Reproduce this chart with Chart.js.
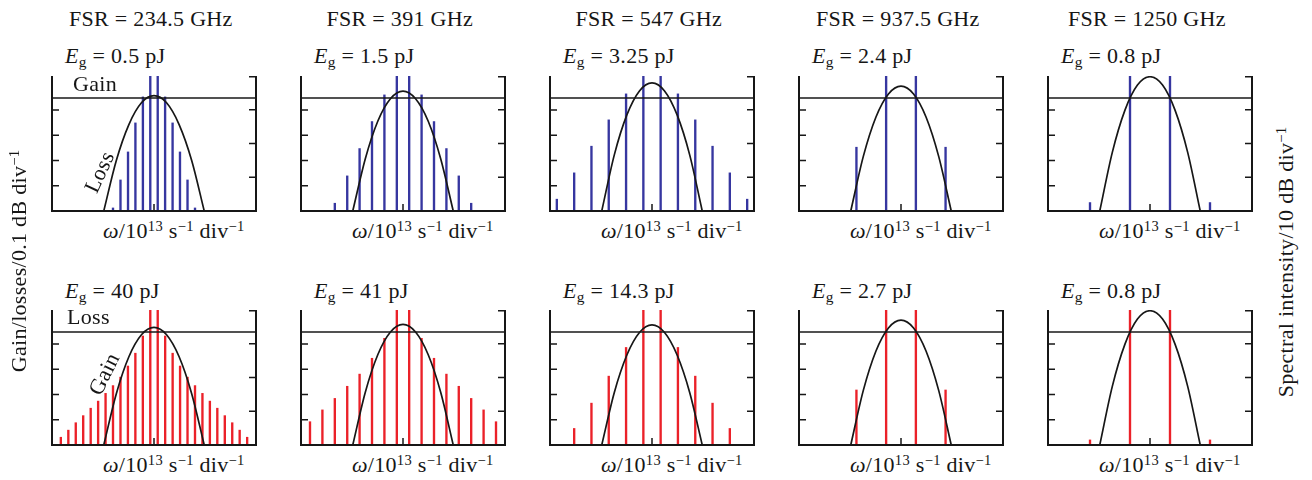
<!DOCTYPE html>
<html>
<head>
<meta charset="utf-8">
<script src="https://cdn.jsdelivr.net/npm/chart.js@4.4.1/dist/chart.umd.min.js"></script>
<style>
  html, body { margin: 0; padding: 0; background: #fff; }
  body { width: 1312px; height: 480px; position: relative; overflow: hidden;
         font-family: "Liberation Serif", "Times New Roman", serif; color: #161616; }
  .txt, .rot { position: absolute; white-space: nowrap; font-size: 22px; line-height: 22px; letter-spacing: 0.3px; }
  .txt sub, .rot sub { font-size: 0.7em; vertical-align: -0.28em; line-height: 0; }
  .txt sup, .rot sup { font-size: 0.66em; vertical-align: 0.5em; line-height: 0; }
  .panel { position: absolute; }
</style>
</head>
<body>
<script>
// ---- data -------------------------------------------------------------
const fsrValues      = ['234.5', '391', '547', '937.5', '1250'];   // GHz
const energiesTop    = ['0.5', '1.5', '3.25', '2.4', '0.8'];       // pJ
const energiesBottom = ['40', '41', '14.3', '2.7', '0.8'];          // pJ

// cavity mode frequencies, ω in 10^13 s^-1 relative to the gain centre
const modesTop = [
  [-0.816, -0.667, -0.517, -0.370, -0.221, -0.074, 0.074, 0.221, 0.370, 0.517, 0.667, 0.816],
  [-1.357, -1.110, -0.864, -0.617, -0.370, -0.123, 0.123, 0.370, 0.617, 0.864, 1.110, 1.357],
  [-1.894, -1.549, -1.205, -0.861, -0.516, -0.172, 0.172, 0.516, 0.861, 1.205, 1.549, 1.894],
  [-0.887, -0.296, 0.296, 0.887],
  [-1.194, -0.398, 0.398, 1.194]
];
// spectral intensity of each mode, dB relative to the frame top
const spectraTop = [
  [-39.1, -30.8, -22.5, -13.9, -6.2, 0, 0, -6.2, -13.9, -22.5, -30.8, -39.1],
  [-37.7, -29.6, -21.5, -13.5, -5.6, 0, 0, -5.6, -13.5, -21.5, -29.6, -37.7],
  [-36.5, -28.7, -20.8, -13.0, -5.3, 0, 0, -5.3, -13.0, -20.8, -28.7, -36.5],
  [-21.1, 0, 0, -21.1],
  [-37.5, 0, 0, -37.5]
];
const modesBottom = [
  [-1.854, -1.705, -1.557, -1.409, -1.260, -1.112, -0.964, -0.816, -0.667, -0.519, -0.371, -0.222, -0.074,
    0.074, 0.222, 0.371, 0.519, 0.667, 0.816, 0.964, 1.112, 1.260, 1.409, 1.557, 1.705, 1.854],
  [-1.851, -1.604, -1.357, -1.110, -0.864, -0.617, -0.370, -0.123, 0.123, 0.370, 0.617, 0.864, 1.110, 1.357, 1.604, 1.851],
  [-1.549, -1.205, -0.861, -0.516, -0.172, 0.172, 0.516, 0.861, 1.205, 1.549],
  [-0.887, -0.296, 0.296, 0.887],
  [-1.194, -0.398, 0.398, 1.194]
];
const spectraBottom = [
  [-37.7, -35.6, -33.4, -31.3, -29.1, -27.0, -24.7, -22.4, -19.9, -16.6, -12.8, -7.7, 0,
    0, -7.7, -12.8, -16.6, -19.9, -22.4, -24.7, -27.0, -29.1, -31.3, -33.4, -35.6, -37.7],
  [-33.1, -29.6, -26.2, -22.6, -19.0, -14.3, -8.4, 0, 0, -8.4, -14.3, -19.0, -22.6, -26.2, -29.6, -33.1],
  [-35.1, -27.6, -19.6, -11.1, 0, 0, -11.1, -19.6, -27.6, -35.1],
  [-23.7, 0, 0, -23.7],
  [-38.5, 0, 0, -38.5]
];

// parabolic gain / loss profiles in 0.1 dB divisions
const curveOmega = [-1, -0.75, -0.5, -0.25, 0, 0.25, 0.5, 0.75, 1];
const curvesTop = [
  [0, 2.00, 3.42, 4.28, 4.56, 4.28, 3.42, 2.00, 0],
  [0, 2.07, 3.56, 4.44, 4.74, 4.44, 3.56, 2.07, 0],
  [0, 2.22, 3.80, 4.75, 5.07, 4.75, 3.80, 2.22, 0],
  [0, 2.16, 3.71, 4.63, 4.94, 4.63, 3.71, 2.16, 0],
  [0, 2.32, 3.98, 4.98, 5.31, 4.98, 3.98, 2.32, 0]
];
const curvesBottom = [
  [0, 2.03, 3.49, 4.36, 4.65, 4.36, 3.49, 2.03, 0],
  [0, 2.09, 3.58, 4.47, 4.77, 4.47, 3.58, 2.09, 0],
  [0, 2.08, 3.56, 4.45, 4.75, 4.45, 3.56, 2.08, 0],
  [0, 2.16, 3.71, 4.63, 4.94, 4.63, 3.71, 2.16, 0],
  [0, 2.32, 3.98, 4.98, 5.31, 4.98, 3.98, 2.32, 0]
];
// flat gain level (top row) and flat loss level (bottom row)
const levelTop = 4.47;
const levelBottom = 4.47;

// ---- layout -----------------------------------------------------------
const X_MIN = -2.03, X_MAX = 2.03;     // ω range of each frame
const G_MAX = 5.34;                    // left axis, 0.1 dB per division
const S_MIN = -40, S_MAX = 0;          // right axis, 10 dB per division
const colLeft = [52, 301, 550, 799, 1048];
const frameW = 204, frameH = 135;
const rowTop = [76, 310];
const PAD = 3;
const INK = '#171717';
const BLUE = '#3636a0';
const RED = '#eb2129';
const BASE_SHIFT = 18.4;               // baseline offset inside a 22px text line

// frame with inward tick marks taken from the scales
const framePlugin = {
  id: 'frame',
  afterDatasetsDraw(chart) {
    const { ctx, chartArea: a, scales } = chart;
    const len = 7;
    ctx.save();
    ctx.strokeStyle = INK;
    ctx.lineWidth = 2;
    ctx.beginPath();
    ctx.moveTo(a.left, a.top);
    ctx.lineTo(a.left, a.bottom);
    ctx.lineTo(a.right, a.bottom);
    ctx.lineTo(a.right, a.top);
    ctx.stroke();
    ctx.lineWidth = 1.5;
    ctx.beginPath();
    scales.yG.ticks.forEach(t => {
      if (t.value <= 0 || t.value >= G_MAX || !Number.isInteger(t.value)) return;
      const y = scales.yG.getPixelForValue(t.value);
      ctx.moveTo(a.left, y); ctx.lineTo(a.left + len, y);
    });
    scales.yS.ticks.forEach(t => {
      if (t.value <= S_MIN) return;
      const y = Math.max(scales.yS.getPixelForValue(t.value), a.top + 0.75);
      ctx.moveTo(a.right, y); ctx.lineTo(a.right - len, y);
    });
    scales.x.ticks.forEach(t => {
      const x = scales.x.getPixelForValue(t.value);
      ctx.moveTo(x, a.bottom); ctx.lineTo(x, a.bottom - len);
    });
    ctx.stroke();
    ctx.restore();
  }
};

function makePanel(left, top, modes, spectrum, curve, level, color) {
  const wrap = document.createElement('div');
  wrap.className = 'panel';
  wrap.style.left = (left - PAD) + 'px';
  wrap.style.top = (top - PAD) + 'px';
  const canvas = document.createElement('canvas');
  canvas.width = frameW + 2 * PAD;
  canvas.height = frameH + 2 * PAD;
  wrap.appendChild(canvas);
  document.body.appendChild(wrap);

  return new Chart(canvas, {
    type: 'bar',
    data: {
      datasets: [
        {
          type: 'bar',
          data: modes.map((w, i) => ({ x: w, y: [S_MIN, spectrum[i]] })),
          backgroundColor: color,
          borderWidth: 0,
          barThickness: 1.7,
          grouped: false,
          xAxisID: 'x', yAxisID: 'yS',
          order: 2
        },
        {
          type: 'line',
          data: curveOmega.map((w, i) => ({ x: w, y: curve[i] })),
          borderColor: INK, borderWidth: 1.7,
          pointRadius: 0, fill: false,
          cubicInterpolationMode: 'monotone',
          xAxisID: 'x', yAxisID: 'yG',
          order: 1
        },
        {
          type: 'line',
          data: [{ x: X_MIN, y: level }, { x: X_MAX, y: level }],
          borderColor: INK, borderWidth: 1.5,
          pointRadius: 0, fill: false,
          xAxisID: 'x', yAxisID: 'yG',
          order: 1
        }
      ]
    },
    options: {
      responsive: false,
      animation: false,
      events: [],
      layout: { padding: PAD },
      plugins: { legend: { display: false }, tooltip: { enabled: false } },
      scales: {
        x: {
          type: 'linear', min: X_MIN, max: X_MAX, offset: false, display: false,
          afterBuildTicks: s => { s.ticks = [{ value: 0 }]; }
        },
        yG: { type: 'linear', position: 'left', min: 0, max: G_MAX, display: false, ticks: { stepSize: 1 } },
        yS: { type: 'linear', position: 'right', min: S_MIN, max: S_MAX, display: false, ticks: { stepSize: 10 } }
      }
    },
    plugins: [framePlugin]
  });
}

function addText(html, left, baseline) {
  const d = document.createElement('div');
  d.className = 'txt';
  d.innerHTML = html;
  d.style.left = left + 'px';
  d.style.top = (baseline - BASE_SHIFT) + 'px';
  document.body.appendChild(d);
  return d;
}

function addRotated(html, cx, cy, deg) {
  const d = document.createElement('div');
  d.className = 'rot';
  d.innerHTML = html;
  document.body.appendChild(d);
  const w = d.offsetWidth, h = d.offsetHeight;
  d.style.left = (cx - w / 2) + 'px';
  d.style.top = (cy - h / 2) + 'px';
  d.style.transform = 'rotate(' + deg + 'deg)';
  return d;
}

const omegaLabel = '<i>ω</i>/10<sup>13</sup> s<sup>−1</sup> div<sup>−1</sup>';

for (let c = 0; c < 5; c++) {
  const L = colLeft[c];
  makePanel(L, rowTop[0], modesTop[c], spectraTop[c], curvesTop[c], levelTop, BLUE);
  makePanel(L, rowTop[1], modesBottom[c], spectraBottom[c], curvesBottom[c], levelBottom, RED);

  // column title, centred over the frame
  const t = addText('FSR = ' + fsrValues[c] + ' GHz', 0, 26);
  t.style.left = (L + 99 - t.offsetWidth / 2) + 'px';

  addText('<i>E</i><sub>g</sub> = ' + energiesTop[c] + ' pJ', L + 13, 63);
  addText('<i>E</i><sub>g</sub> = ' + energiesBottom[c] + ' pJ', L + 13, 298);

  addText(omegaLabel, L + 51, 238);
  addText(omegaLabel, L + 51, 472.5);
}

// curve and level names in the first column
addText('Gain', colLeft[0] + 21, 91.7);
addText('Loss', colLeft[0] + 15, 324);
addRotated('Loss', 99, 171.5, -65);
addRotated('Gain', 103.5, 374, -64);

// outer axis titles
addRotated('Gain/losses/0.1 dB div<sup>−1</sup>', 19, 261, -90);
addRotated('Spectral intensity/10 dB div<sup>−1</sup>', 1286, 262, -90);
</script>
</body>
</html>
